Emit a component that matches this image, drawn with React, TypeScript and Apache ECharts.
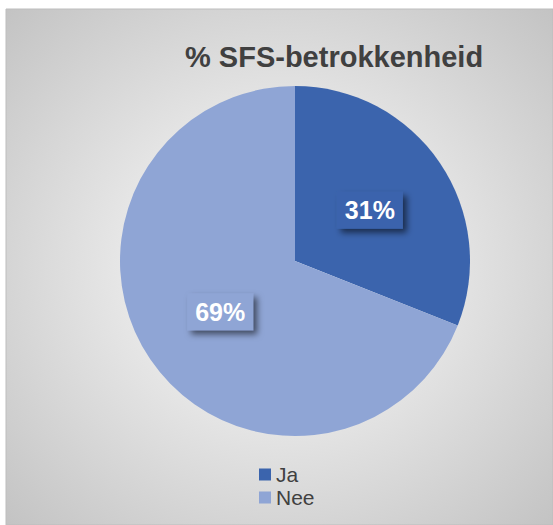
import React, { useEffect, useRef } from "react";
import * as echarts from "echarts";

const categories = ["Ja", "Nee"];
const values = [31, 69];
const colors = ["#3B64AD", "#8FA5D5"];
const titleText = "% SFS-betrokkenheid";

export default function App() {
  const ref = useRef<HTMLDivElement>(null);
  useEffect(() => {
    if (!ref.current) return;
    const chart = echarts.init(ref.current, null, { renderer: "svg" });
    const data = categories.map((name, i) => ({
      name,
      value: values[i],
      itemStyle: { color: colors[i] },
      label: { backgroundColor: colors[i] },
    }));
    chart.setOption({
      animation: false,
      graphic: [
        {
          type: "rect",
          z: -10,
          silent: true,
          shape: { x: 6, y: 9, width: 547, height: 516 },
          style: {
            fill: {
              type: "radial",
              x: 0.5,
              y: 0.5,
              r: 0.72,
              colorStops: [
                { offset: 0, color: "#ffffff" },
                { offset: 1, color: "#c2c2c2" },
              ],
            },
            stroke: "#bdbdbd",
            lineWidth: 1,
          },
        },
      ],
      title: {
        text: titleText,
        left: 180,
        top: 37,
        textStyle: {
          fontFamily: "Liberation Sans, Arial, sans-serif",
          fontSize: 29,
          fontWeight: "bold",
          color: "#404040",
        },
      },
      legend: {
        orient: "vertical",
        left: 254,
        top: 459,
        icon: "rect",
        itemWidth: 12,
        itemHeight: 12,
        itemGap: 2,
        data: categories,
        textStyle: {
          fontFamily: "Liberation Sans, Arial, sans-serif",
          fontSize: 21,
          lineHeight: 20,
          color: "#404040",
        },
      },
      series: [
        {
          type: "pie",
          center: [295, 261],
          radius: 175,
          startAngle: 90,
          clockwise: true,
          data,
          label: {
            show: true,
            position: "inside",
            formatter: "{d}%",
            color: "#ffffff",
            fontFamily: "Liberation Sans, Arial, sans-serif",
            fontSize: 25,
            fontWeight: "bold",
            padding: [7, 8, 5, 8],
            shadowColor: "rgba(0,0,0,0.55)",
            shadowBlur: 6,
            shadowOffsetX: 4,
            shadowOffsetY: 4,
          },
          labelLine: { show: false },
          emphasis: { disabled: true },
        },
      ],
    });
    return () => chart.dispose();
  }, []);
  return (
    <div
      ref={ref}
      style={{ position: "absolute", left: 0, top: 0, width: 553, height: 525 }}
    />
  );
}
